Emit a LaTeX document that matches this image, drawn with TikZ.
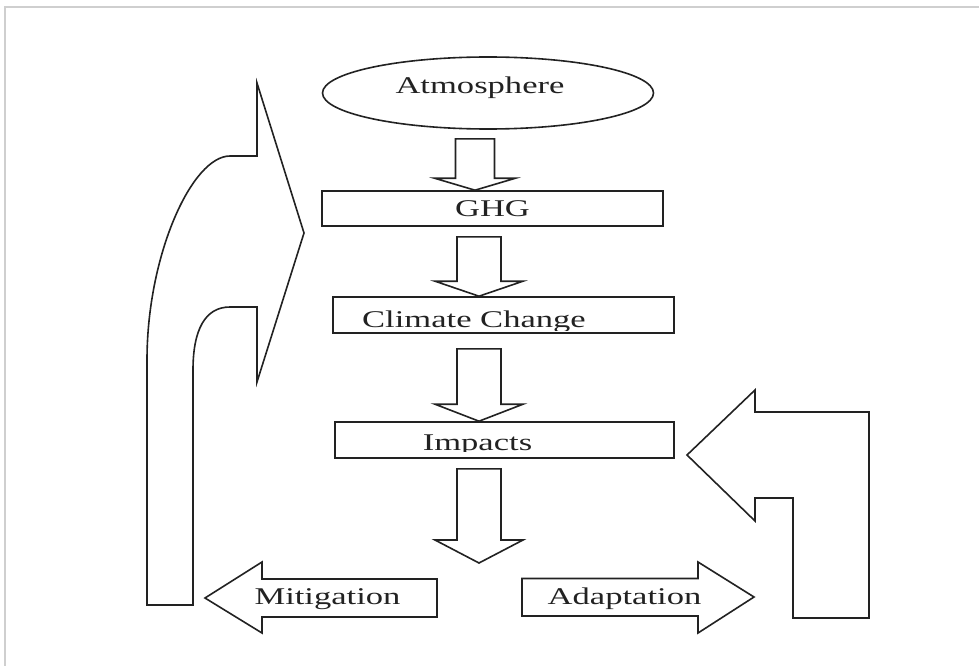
\documentclass[tikz,border=0pt]{standalone}
\usepackage{fontspec}
\usetikzlibrary{calc,shapes.geometric}
\newfontfamily\lblfont{Liberation Serif}[FakeStretch=1.44]
\definecolor{ink}{HTML}{222222}
\definecolor{rim}{HTML}{CFCFCF}
% hollow block arrow pointing down: start, end, half shaft, half head, head length
\newcommand\blockdown[5]{%
  \draw[blk] let \p1=#1, \p2=#2 in
    ({\x1-#3pt},\y1) -- ({\x1-#3pt},{\y2+#5pt}) -- ({\x1-#4pt},{\y2+#5pt}) -- (\x1,\y2)
    -- ({\x1+#4pt},{\y2+#5pt}) -- ({\x1+#3pt},{\y2+#5pt}) -- ({\x1+#3pt},\y1) -- cycle;}
\begin{document}
\begin{tikzpicture}[x=1pt, y=-1pt, line join=miter]
\tikzset{
  blk/.style={draw=ink, line width=1.6pt, fill=white},
  box/.style={draw=ink, line width=1.6pt, rectangle, minimum height=36pt, inner sep=0pt,
    text=ink, font=\lblfont\fontsize{24}{28}\selectfont},
  bubble/.style={draw=ink, line width=1.6pt, ellipse, minimum width=331pt, minimum height=72pt, inner sep=0pt},
  lbl/.style={anchor=base, inner sep=0pt, text=ink, font=\lblfont\fontsize{24}{28}\selectfont},
  frame/.style={draw=rim, line width=1.6pt}
}
\useasboundingbox (0,0) rectangle (979,666);
\draw[frame] (5,666) -- (5,7) -- (979,7);
% chain
\node[bubble] (atm) at (488,93) {};
\node[lbl] (atmtxt) at (480,94) {Atmosphere};
\node[box, minimum width=341pt, minimum height=35pt] (ghg) at (492.5,208.5) {GHG};
\node[box, minimum width=341pt] (clim) at (503.5,315) {};
\begin{scope}
  \clip (clim.north west) rectangle ([yshift=3.5pt]clim.south east);
  \node[lbl] (climtxt) at (474,327) {Climate Change};
\end{scope}
\node[box, minimum width=339pt] (imp) at (504.5,440) {};
\begin{scope}
  \clip (imp.north west) rectangle ([yshift=7.5pt]imp.south east);
  \node[lbl] (imptxt) at (477.5,450) {Impacts};
\end{scope}
\coordinate (drop) at (479,563);
\blockdown{($(atm.south)+(-13,9)$)}{(ghg.north)}{19.5}{40.5}{12}
\blockdown{($(ghg.south)+(-13.5,10)$)}{(clim.north)}{22}{44}{15}
\blockdown{($(clim.south)+(-24.5,15)$)}{(imp.north)}{22}{44}{17}
\blockdown{($(imp.south)+(-25.5,10)$)}{(drop)}{22}{44}{23}
% responses
\draw[blk] (205,598) -- (262,562) -- (262,579) -- (437,579) -- (437,617) -- (262,617) -- (262,633) -- cycle;
\node[lbl] (mit) at (327.5,604) {Mitigation};
\draw[blk] (754,597) -- (698,562) -- (698,578.5) -- (522,578.5) -- (522,616) -- (698,616) -- (698,633) -- cycle;
\node[lbl] (adp) at (624.5,604) {Adaptation};
% feedback loops
\draw[blk] (147,605) -- (147,360) .. controls (147,255) and (192,156) .. (230,156) -- (257,156)
  -- (257,83) -- (304,233) -- (257,382) -- (257,307) -- (230,307)
  .. controls (205,307) and (193,330) .. (193,370) -- (193,605) -- cycle;
\draw[blk] (687,455) -- (755,390) -- (755,412) -- (869,412) -- (869,618) -- (793,618)
  -- (793,498) -- (755,498) -- (755,521) -- cycle;
\end{tikzpicture}
\end{document}
